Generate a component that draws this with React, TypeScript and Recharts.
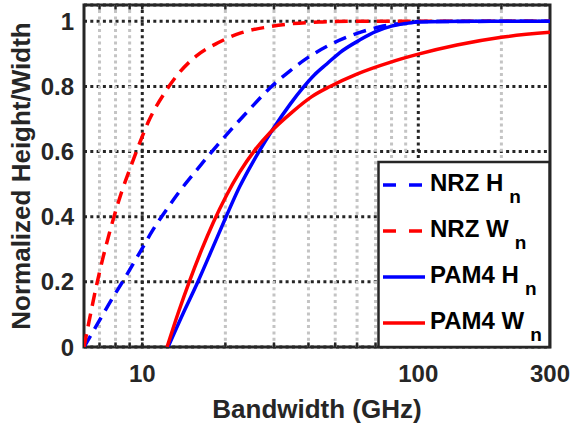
import React from 'react';
import { LineChart, Line, XAxis, YAxis, CartesianGrid, ReferenceLine, ReferenceArea } from 'recharts';

// ---- data ----
const nrzHf = [6.15, 6.98, 7.8, 8.48, 9.9, 10.9, 12.2, 13.6, 15.7, 18.0, 21.9, 24.5, 29.0, 34.3, 39.4, 47.9, 60, 72.7, 90, 100, 300];
const nrzHv = [0, 0.08, 0.15, 0.2, 0.297, 0.358, 0.42, 0.476, 0.542, 0.603, 0.685, 0.73, 0.795, 0.848, 0.886, 0.928, 0.963, 0.983, 0.995, 0.999, 1.0];

const nrzWf = [6.15, 6.42, 6.79, 7.21, 7.52, 7.96, 8.41, 9.14, 9.67, 10.5, 12.09, 13.4, 15.67, 18.8, 22.9, 28.2, 35.2, 45, 60, 100, 300];
const nrzWv = [0, 0.08, 0.18, 0.275, 0.335, 0.41, 0.475, 0.56, 0.615, 0.69, 0.782, 0.835, 0.893, 0.934, 0.965, 0.982, 0.993, 0.998, 1.0, 1.0, 1.0];

const pam4Hf = [12.4, 14, 15.8, 18, 20.1, 22.5, 24.5, 26.6, 29.8, 34.3, 38.3, 42, 46.6, 52, 61.5, 70, 80, 90, 100, 150, 300];
const pam4Hv = [0, 0.1, 0.195, 0.305, 0.399, 0.491, 0.55, 0.603, 0.67, 0.745, 0.797, 0.835, 0.869, 0.904, 0.943, 0.968, 0.985, 0.993, 0.998, 1.0, 1.0];

const pam4Wf = [12.3, 13.5, 14.9, 16.4, 18.1, 20.2, 22.5, 25.5, 29, 35, 41, 47.9, 59.9, 79, 100, 138, 200, 300];
const pam4Wv = [0, 0.105, 0.207, 0.298, 0.383, 0.466, 0.536, 0.603, 0.658, 0.722, 0.768, 0.8, 0.838, 0.874, 0.899, 0.927, 0.951, 0.966];

const xTicks = [10, 100, 300];
const yTicks = [0, 0.2, 0.4, 0.6, 0.8, 1];
const xMajorGrid = [10, 100];
const xMinorGrid = [7, 8, 9, 20, 30, 40, 50, 60, 70, 80, 90, 200];
const xDomain: [number, number] = [6.15, 300];
const yDomain: [number, number] = [0, 1.05];

const legendItems = [
  { main: 'NRZ H', sub: 'n', color: '#0000ff', dashed: true },
  { main: 'NRZ W', sub: 'n', color: '#ff0000', dashed: true },
  { main: 'PAM4 H', sub: 'n', color: '#0000ff', dashed: false },
  { main: 'PAM4 W', sub: 'n', color: '#ff0000', dashed: false },
];

const zip = (f: number[], v: number[]) => f.map((x, i) => ({ f: x, v: v[i] }));
const nrzH = zip(nrzHf, nrzHv);
const nrzW = zip(nrzWf, nrzWv);
const pam4H = zip(pam4Hf, pam4Hv);
const pam4W = zip(pam4Wf, pam4Wv);

const FONT = '"Liberation Sans", Arial, Helvetica, sans-serif';
const DARK = '#262626';
const DOT = '3 3.3';

export default function App() {
  return (
    <div style={{ position: 'absolute', left: 0, top: 0, width: 572, height: 430, background: '#fff', fontFamily: FONT }}>
      <LineChart width={572} height={430} margin={{ top: 5, right: 22, bottom: 0, left: 0 }}>
        <CartesianGrid horizontal={true} vertical={false} stroke={DARK} strokeDasharray={DOT} strokeWidth={3} />
        <XAxis
          dataKey="f"
          type="number"
          scale="log"
          domain={xDomain}
          allowDataOverflow
          ticks={xTicks}
          interval={0}
          height={83}
          tickLine={false}
          axisLine={false}
          tickSize={6}
          tickMargin={12}
          tick={{ fontSize: 24, fontWeight: 'bold', fill: DARK, fontFamily: FONT }}
        />
        <YAxis
          type="number"
          domain={yDomain}
          allowDataOverflow
          ticks={yTicks}
          interval={0}
          width={84}
          tickLine={false}
          axisLine={false}
          tickSize={6}
          tickMargin={4}
          tick={{ fontSize: 24, fontWeight: 'bold', fill: DARK, fontFamily: FONT }}
        />
        {xMinorGrid.map((x) => (
          <ReferenceLine key={'mg' + x} x={x} stroke="#c4c4c4" strokeDasharray={DOT} strokeWidth={3} />
        ))}
        {xMajorGrid.map((x) => (
          <ReferenceLine key={'Mg' + x} x={x} stroke={DARK} strokeDasharray={DOT} strokeWidth={3} />
        ))}
        {xMinorGrid.concat(xMajorGrid).map((x) => (
          <ReferenceLine key={'tb' + x} segment={[{ x, y: 0 }, { x, y: 0.014 }]} stroke={DARK} strokeWidth={2.5} />
        ))}
        {xMinorGrid.concat(xMajorGrid).map((x) => (
          <ReferenceLine key={'tt' + x} segment={[{ x, y: 1.036 }, { x, y: 1.05 }]} stroke={DARK} strokeWidth={2.5} />
        ))}
        <Line data={nrzH} dataKey="v" type="monotone" stroke="#0000ff" strokeWidth={3.5} strokeDasharray="13 8" dot={false} isAnimationActive={false} />
        <Line data={nrzW} dataKey="v" type="monotone" stroke="#ff0000" strokeWidth={3.5} strokeDasharray="13 8" dot={false} isAnimationActive={false} />
        <Line data={pam4H} dataKey="v" type="monotone" stroke="#0000ff" strokeWidth={3.5} dot={false} isAnimationActive={false} />
        <Line data={pam4W} dataKey="v" type="monotone" stroke="#ff0000" strokeWidth={3.5} dot={false} isAnimationActive={false} />
        <ReferenceArea x1={xDomain[0]} x2={xDomain[1]} y1={yDomain[0]} y2={yDomain[1]} fill="none" fillOpacity={0} stroke={DARK} strokeWidth={3} ifOverflow="visible" />
      </LineChart>
      <svg width={572} height={430} style={{ position: 'absolute', left: 0, top: 0, pointerEvents: 'none' }}>
        <text x={317} y={418} textAnchor="middle" fontSize={26} fontWeight="bold" fill={DARK} fontFamily={FONT}>
          Bandwidth (GHz)
        </text>
        <text x={30} y={176} textAnchor="middle" fontSize={26} fontWeight="bold" fill={DARK} fontFamily={FONT} transform="rotate(-90 30 176)">
          Normalized Height/Width
        </text>
        <rect x={378.5} y={162} width={171} height={185} fill="#fff" stroke={DARK} strokeWidth={2.5} />
        {legendItems.map((it, i) => {
          const cy = 185 + i * 46;
          return (
            <g key={it.main + it.sub}>
              <line x1={383} x2={425} y1={cy} y2={cy} stroke={it.color} strokeWidth={3.5} strokeDasharray={it.dashed ? '13 13' : undefined} />
              <text x={430} y={cy + 6} fontSize={24} fontWeight="bold" fill="#000" fontFamily={FONT}>
                {it.main}
                <tspan dx={6} dy={12} fontSize={19}>{it.sub}</tspan>
              </text>
            </g>
          );
        })}
      </svg>
    </div>
  );
}
